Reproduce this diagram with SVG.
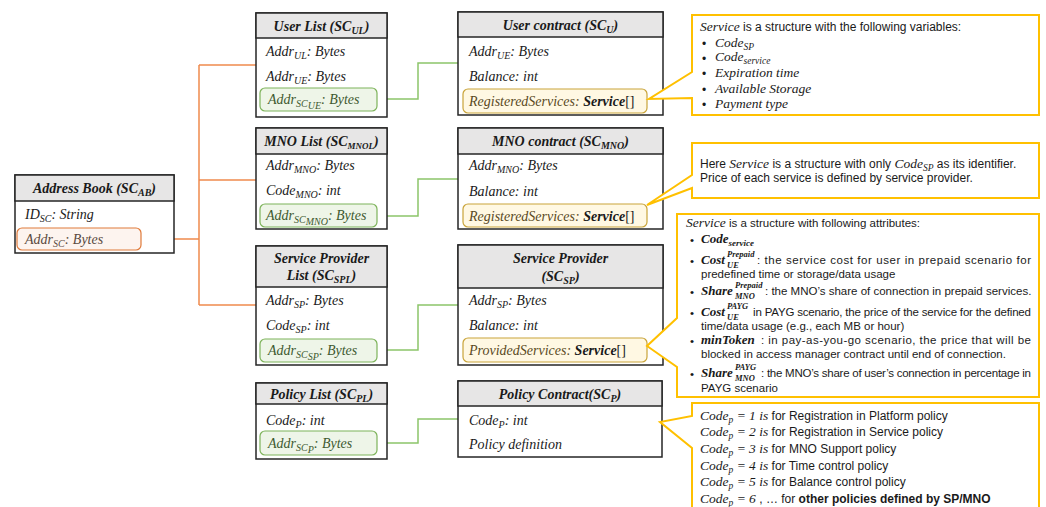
<svg xmlns="http://www.w3.org/2000/svg" width="1046" height="507" viewBox="0 0 1046 507">
<style>
.bg{fill:#fff}
.box{fill:#fff;stroke:#262626;stroke-width:1.5}
.hdr{fill:#E7E6E6;stroke:#262626;stroke-width:1.5}
.t{font-family:"Liberation Serif","DejaVu Serif",serif;font-style:italic;font-size:14px;fill:#1a1a1a}
.h{font-weight:bold;text-anchor:middle}
.b{font-weight:bold}
.sb{font-size:10px}
.po{fill:#FDF4EF;stroke:#E07A3A;stroke-width:1.2}
.pg{fill:#EEF5E8;stroke:#7DB35A;stroke-width:1.2}
.py{fill:#FFF8E3;stroke:#C9A43A;stroke-width:1.2}
.tg{fill:#3E5A30}
.to{fill:#5A4A40}
.ty{fill:#5A4A1E}
.co{fill:#fff;stroke:#FFC000;stroke-width:2}
.s{font-family:"Liberation Sans",Arial,sans-serif;font-size:12px;fill:#1a1a1a}
.s2{font-family:"Liberation Sans",Arial,sans-serif;font-size:11.5px;fill:#1a1a1a}
.m{font-family:"Liberation Serif","DejaVu Serif",serif;font-style:italic;font-size:13.5px;fill:#1a1a1a}
.mb{font-family:"Liberation Serif","DejaVu Serif",serif;font-style:italic;font-weight:bold;font-size:13px;fill:#1a1a1a}
.ss{font-family:"Liberation Serif","DejaVu Serif",serif;font-style:italic;font-weight:bold;font-size:8.5px;fill:#1a1a1a}
.lo{fill:none;stroke:#EF8A4E;stroke-width:1.5}
.lg{fill:none;stroke:#8CC56A;stroke-width:1.5}
</style>
<rect class="bg" x="0" y="0" width="1046" height="507"/>

<g id="connectors">
<path class="lo" d="M141,239 H199 M199,65 V305 M199,65 H256 M199,180 H256 M199,305 H256"/>
<path class="lg" d="M377,99 H418 V63 H458"/>
<path class="lg" d="M377,216 H418 V179 H458"/>
<path class="lg" d="M377,350 H418 V305 H458"/>
<path class="lg" d="M377,443 H418 V419 H458"/>
</g>

<g id="address-book">
<rect class="box" x="15" y="175" width="159" height="78"/>
<rect class="hdr" x="15" y="175" width="159" height="26"/>
<text class="t h" x="94.5" y="193">Address Book (SC<tspan class="sb" dy="3">AB</tspan><tspan dy="-3">)</tspan></text>
<text class="t" x="25" y="219">ID<tspan class="sb" dy="3">SC</tspan><tspan dy="-3">: String</tspan></text>
<rect class="po" x="17" y="228" width="124" height="22" rx="5"/>
<text class="t to" x="25" y="244">Addr<tspan class="sb" dy="3">SC</tspan><tspan dy="-3">: Bytes</tspan></text>
</g>

<g id="user-list">
<rect class="box" x="256" y="13" width="131" height="104"/>
<rect class="hdr" x="256" y="13" width="131" height="25"/>
<text class="t h" x="321.5" y="31">User List (SC<tspan class="sb" dy="3">UL</tspan><tspan dy="-3">)</tspan></text>
<text class="t" x="266" y="56">Addr<tspan class="sb" dy="3">UL</tspan><tspan dy="-3">: Bytes</tspan></text>
<text class="t" x="266" y="81">Addr<tspan class="sb" dy="3">UE</tspan><tspan dy="-3">: Bytes</tspan></text>
<rect class="pg" x="260" y="88" width="117" height="23" rx="5"/>
<text class="t tg" x="268" y="104">Addr<tspan class="sb" dy="3">SC</tspan><tspan class="sb" font-size="8" dy="2">UE</tspan><tspan dy="-5">: Bytes</tspan></text>
</g>

<g id="user-contract">
<rect class="box" x="458" y="12" width="205" height="103"/>
<rect class="hdr" x="458" y="12" width="205" height="25"/>
<text class="t h" x="560.5" y="30">User contract (SC<tspan class="sb" dy="3">U</tspan><tspan dy="-3">)</tspan></text>
<text class="t" x="469" y="56">Addr<tspan class="sb" dy="3">UE</tspan><tspan dy="-3">: Bytes</tspan></text>
<text class="t" x="469" y="81">Balance: int</text>
<rect class="py" x="463" y="89" width="184" height="24" rx="5"/>
<text class="t ty" x="469" y="106">RegisteredServices: <tspan class="b" fill="#1a1a1a">Service</tspan><tspan fill="#1a1a1a" font-style="normal">[]</tspan></text>
</g>

<g id="mno-list">
<rect class="box" x="256" y="128" width="131" height="101"/>
<rect class="hdr" x="256" y="128" width="131" height="26"/>
<text class="t h" x="321.5" y="146">MNO List (SC<tspan font-size="9" dy="3">MNOL</tspan><tspan dy="-3">)</tspan></text>
<text class="t" x="266" y="170">Addr<tspan class="sb" dy="3">MNO</tspan><tspan dy="-3">: Bytes</tspan></text>
<text class="t" x="266" y="195">Code<tspan class="sb" dy="3">MNO</tspan><tspan dy="-3">: int</tspan></text>
<rect class="pg" x="260" y="204" width="117" height="23" rx="5"/>
<text class="t tg" x="266" y="220">Addr<tspan class="sb" dy="3">SC</tspan><tspan class="sb" font-size="8" dy="2">MNO</tspan><tspan dy="-5">: Bytes</tspan></text>
</g>

<g id="mno-contract">
<rect class="box" x="458" y="128" width="205" height="101"/>
<rect class="hdr" x="458" y="128" width="205" height="26"/>
<text class="t h" x="560.5" y="146">MNO contract (SC<tspan class="sb" dy="3">MNO</tspan><tspan dy="-3">)</tspan></text>
<text class="t" x="469" y="170">Addr<tspan class="sb" dy="3">MNO</tspan><tspan dy="-3">: Bytes</tspan></text>
<text class="t" x="469" y="196">Balance: int</text>
<rect class="py" x="463" y="204" width="184" height="23" rx="5"/>
<text class="t ty" x="469" y="221">RegisteredServices: <tspan class="b" fill="#1a1a1a">Service</tspan><tspan fill="#1a1a1a" font-style="normal">[]</tspan></text>
</g>

<g id="sp-list">
<rect class="box" x="256" y="246" width="131" height="119"/>
<rect class="hdr" x="256" y="246" width="131" height="41"/>
<text class="t h" x="321.5" y="263">Service Provider</text>
<text class="t h" x="321.5" y="280">List (SC<tspan class="sb" dy="3">SPL</tspan><tspan dy="-3">)</tspan></text>
<text class="t" x="266" y="305">Addr<tspan class="sb" dy="3">SP</tspan><tspan dy="-3">: Bytes</tspan></text>
<text class="t" x="266" y="330">Code<tspan class="sb" dy="3">SP</tspan><tspan dy="-3">: int</tspan></text>
<rect class="pg" x="260" y="339" width="117" height="23" rx="5"/>
<text class="t tg" x="268" y="355">Addr<tspan class="sb" dy="3">SC</tspan><tspan class="sb" font-size="8" dy="2">SP</tspan><tspan dy="-5">: Bytes</tspan></text>
</g>

<g id="sp-contract">
<rect class="box" x="458" y="245" width="205" height="120"/>
<rect class="hdr" x="458" y="245" width="205" height="43"/>
<text class="t h" x="560.5" y="263">Service Provider</text>
<text class="t h" x="560.5" y="281">(SC<tspan class="sb" dy="3">SP</tspan><tspan dy="-3">)</tspan></text>
<text class="t" x="469" y="305">Addr<tspan class="sb" dy="3">SP</tspan><tspan dy="-3">: Bytes</tspan></text>
<text class="t" x="469" y="330">Balance: int</text>
<rect class="py" x="463" y="338" width="184" height="24" rx="5"/>
<text class="t ty" x="469" y="355">ProvidedServices: <tspan class="b" fill="#1a1a1a">Service</tspan><tspan fill="#1a1a1a" font-style="normal">[]</tspan></text>
</g>

<g id="policy-list">
<rect class="box" x="256" y="383" width="131" height="76"/>
<rect class="hdr" x="256" y="383" width="131" height="21"/>
<text class="t h" x="321.5" y="399">Policy List (SC<tspan class="sb" dy="3">PL</tspan><tspan dy="-3">)</tspan></text>
<text class="t" x="266" y="425">Code<tspan class="sb" dy="3">P</tspan><tspan dy="-3">: int</tspan></text>
<rect class="pg" x="260" y="431" width="117" height="24" rx="5"/>
<text class="t tg" x="268" y="448">Addr<tspan class="sb" dy="3">SC</tspan><tspan class="sb" font-size="8" dy="2">P</tspan><tspan dy="-5">: Bytes</tspan></text>
</g>

<g id="policy-contract">
<rect class="box" x="458" y="381" width="204" height="76"/>
<rect class="hdr" x="458" y="381" width="204" height="25"/>
<text class="t h" x="560" y="399">Policy Contract(SC<tspan class="sb" dy="3">P</tspan><tspan dy="-3">)</tspan></text>
<text class="t" x="469" y="425">Code<tspan class="sb" dy="3">P</tspan><tspan dy="-3">: int</tspan></text>
<text class="t" x="469" y="449">Policy definition</text>
</g>

<g id="callout-user-service">
<path class="co" d="M692,15 H1039 V115 H692 V98 L649,99 L692,72 Z"/>
<text class="s" x="700" y="31"><tspan class="m">Service</tspan> is a structure with the following variables:</text>
<text class="s" x="702" y="48">•</text><text class="m" x="715" y="47">Code<tspan font-size="9.5" dy="3">SP</tspan></text>
<text class="s" x="702" y="63">•</text><text class="m" x="715" y="61">Code<tspan font-size="9.5" dy="3">service</tspan></text>
<text class="s" x="702" y="78">•</text><text class="m" x="715" y="77">Expiration time</text>
<text class="s" x="702" y="94">•</text><text class="m" x="715" y="93">Available Storage</text>
<text class="s" x="702" y="109">•</text><text class="m" x="715" y="108">Payment type</text>
</g>

<g id="callout-mno-service">
<path class="co" d="M692,143 H1039 V198 H692 V188 L647,205 L692,175 Z"/>
<text class="s" x="700" y="168">Here <tspan class="m">Service</tspan> is a structure with only <tspan class="m">Code<tspan font-size="9.5" dy="3">SP</tspan></tspan><tspan dy="-3"> as its identifier.</tspan></text>
<text class="s" x="700" y="182">Price of each service is defined by service provider.</text>
</g>

<g id="callout-sp-service">
<path class="co" d="M677,214 H1039 V397 H677 V367 L647,346 L677,318 Z"/>
<text class="s2" x="686" y="227"><tspan class="m">Service</tspan> is a structure with following attributes:</text>
<text class="s2" x="690" y="244">•</text>
<text class="mb" x="701" y="243">Code<tspan font-size="9" dy="3">service</tspan></text>
<text class="s2" x="690" y="265">•</text>
<text class="mb" x="701" y="264">Cost</text>
<text class="ss" x="727" y="257">Prepaid</text>
<text class="ss" x="727" y="268">UE</text>
<text class="s2" x="757" y="264" textLength="274" lengthAdjust="spacing">: the service cost for user in prepaid scenario for</text>
<text class="s2" x="701" y="278">predefined time or storage/data usage</text>
<text class="s2" x="690" y="296">•</text>
<text class="mb" x="701" y="295">Share</text>
<text class="ss" x="735" y="288">Prepaid</text>
<text class="ss" x="735" y="299">MNO</text>
<text class="s2" x="765" y="295">: the MNO’s share of connection in prepaid services.</text>
<text class="s2" x="690" y="317">•</text>
<text class="mb" x="701" y="316">Cost</text>
<text class="ss" x="727" y="309">PAYG</text>
<text class="ss" x="727" y="320">UE</text>
<text class="s2" x="753" y="316" textLength="278" lengthAdjust="spacing">in PAYG scenario, the price of the service for the defined</text>
<text class="s2" x="701" y="330">time/data usage (e.g., each MB or hour)</text>
<text class="s2" x="690" y="345">•</text>
<text class="mb" x="701" y="344">minToken</text>
<text class="s2" x="761" y="344" textLength="270" lengthAdjust="spacing">:  in pay-as-you-go scenario, the price that will be</text>
<text class="s2" x="701" y="358">blocked in access manager contract until end of connection.</text>
<text class="s2" x="690" y="378">•</text>
<text class="mb" x="701" y="377">Share</text>
<text class="ss" x="735" y="370">PAYG</text>
<text class="ss" x="735" y="381">MNO</text>
<text class="s2" x="761" y="377" textLength="270" lengthAdjust="spacing">: the MNO’s share of user’s connection in percentage in</text>
<text class="s2" x="701" y="392">PAYG scenario</text>
</g>

<g id="callout-policy-codes">
<path class="co" d="M692,403 H1039 V520 H692 V448 L660,422 L692,416 Z"/>
<text class="s" x="700" y="420"><tspan class="m">Code<tspan font-size="9.5" dy="3">p</tspan><tspan dy="-3"> = 1 is</tspan></tspan> for Registration in Platform policy</text>
<text class="s" x="700" y="436"><tspan class="m">Code<tspan font-size="9.5" dy="3">p</tspan><tspan dy="-3"> = 2 is</tspan></tspan> for Registration in Service policy</text>
<text class="s" x="700" y="453"><tspan class="m">Code<tspan font-size="9.5" dy="3">p</tspan><tspan dy="-3"> = 3 is</tspan></tspan> for MNO Support policy</text>
<text class="s" x="700" y="470"><tspan class="m">Code<tspan font-size="9.5" dy="3">p</tspan><tspan dy="-3"> = 4 is</tspan></tspan> for Time control policy</text>
<text class="s" x="700" y="486"><tspan class="m">Code<tspan font-size="9.5" dy="3">p</tspan><tspan dy="-3"> = 5 is</tspan></tspan> for Balance control policy</text>
<text class="s" x="700" y="503"><tspan class="m">Code<tspan font-size="9.5" dy="3">p</tspan><tspan dy="-3"> = 6</tspan></tspan> , … for <tspan font-weight="bold">other policies defined by SP/MNO</tspan></text>
</g>
</svg>
